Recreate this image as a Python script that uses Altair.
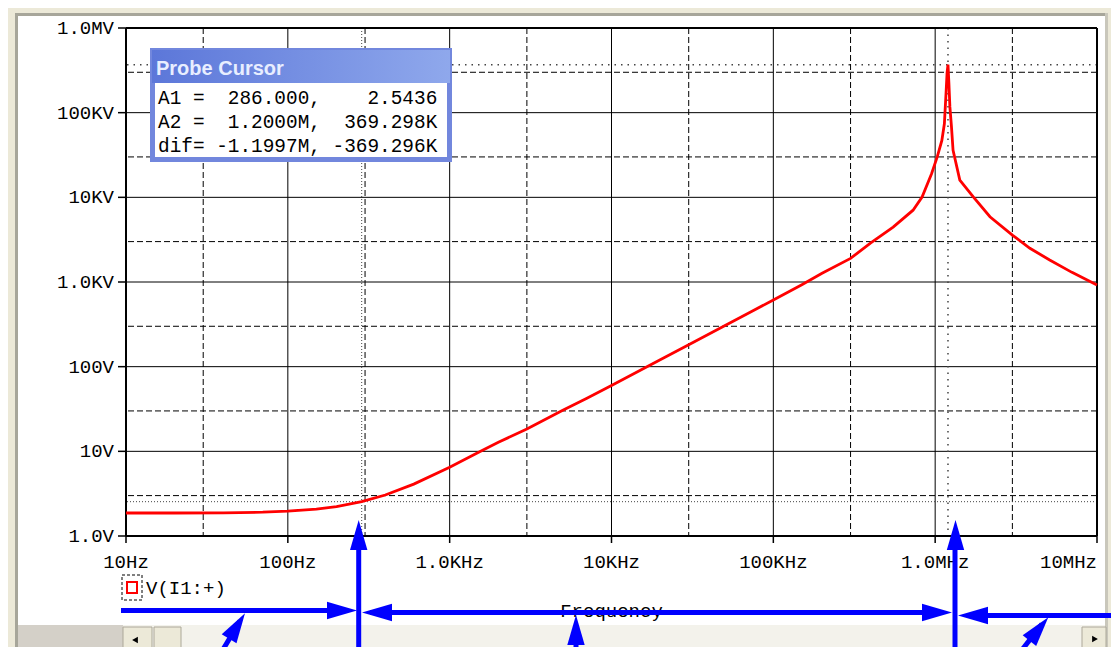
import altair as alt
import pandas as pd
import math

# ---------------- data ----------------
freq_hz = [10, 20, 40, 70, 100, 150, 200, 286, 400, 600, 1000, 1500, 2000, 3000, 5000,
           7000, 10000, 20000, 30000, 50000, 70000, 100000, 150000, 200000, 300000,
           400000, 550000, 730000, 830000, 950000, 1030000, 1100000, 1140000, 1170000,
           1185000, 1200000, 1215000, 1233000, 1260000, 1290000, 1420000, 1720000, 2180000,
           3000000, 3850000, 5100000, 7000000, 10000000]
volts = [1.87, 1.87, 1.88, 1.91, 1.97, 2.08, 2.22, 2.5436, 3.05, 4.1, 6.5, 9.7, 12.8, 18.3, 30.5,
         42, 60, 121, 182, 305, 428, 612, 930, 1270, 1900,
         2900, 4450, 7050, 10100, 19000, 30000, 47000, 74000, 185000,
         300000, 369298, 230000, 117000, 70000, 36000, 16000, 10100, 5900,
         3580, 2500, 1820, 1300, 920]

x_tick_values = [10, 100, 1000, 10000, 100000, 1000000, 10000000]
x_tick_labels = ["10Hz", "100Hz", "1.0KHz", "10KHz", "100KHz", "1.0MHz", "10MHz"]
y_tick_values = [1, 10, 100, 1000, 10000, 100000, 1000000]
y_tick_labels = ["1.0V", "10V", "100V", "1.0KV", "10KV", "100KV", "1.0MV"]
x_major_grid = [100, 1000, 10000, 100000, 1000000]
x_minor_grid = [30, 300, 3000, 30000, 300000, 3000000]
y_major_grid = [10, 100, 1000, 10000, 100000]
y_minor_grid = [3, 30, 300, 3000, 30000, 300000]

cursor_a1 = (286.0, 2.5436)
cursor_a2 = (1.2e6, 369298)
probe_title = "Probe Cursor"
probe_rows = ["A1 =  286.000,    2.5436",
              "A2 =  1.2000M,  369.298K",
              "dif= -1.1997M, -369.296K"]
legend_label = "V(I1:+)"
x_title = "Frequency"

# ---------------- layout ----------------
W, H = 971, 508
PAD_L, PAD_T, PAD_R, PAD_B = 118, 20, 14, 111
OX, OY = 8 + PAD_L, 8 + PAD_T   # page position of plot origin
MONO = "Liberation Mono"
BLUE = "#0000FF"
ONE = pd.DataFrame({"k": [0]})

def rx(px):
    return px - OX

def ry(py):
    return py - OY

xs = alt.Scale(type="log", domain=[10, 1e7], nice=False)
ys = alt.Scale(type="log", domain=[1, 1e6], nice=False)
XF = alt.X("f:Q", scale=xs, axis=None)
YF = alt.Y("v:Q", scale=ys, axis=None)


def prect(x1, y1, x2, y2, **mark):
    return alt.Chart(ONE).mark_rect(**mark).encode(
        x=alt.value(rx(x1)), x2=alt.value(rx(x2)), y=alt.value(ry(y1)), y2=alt.value(ry(y2)))


def ptext(x, y, t, align="left", **mark):
    return alt.Chart(ONE).mark_text(align=align, baseline="alphabetic", **mark).encode(
        x=alt.value(rx(x)), y=alt.value(ry(y)), text=alt.value(t))


def pline(x1, y1, x2, y2, **mark):
    return alt.Chart(ONE).mark_rule(**mark).encode(
        x=alt.value(rx(x1)), x2=alt.value(rx(x2)), y=alt.value(ry(y1)), y2=alt.value(ry(y2)))


HL = 15
def phead(tx, ty, a):
    cx = tx - HL * math.sin(math.radians(a))
    cy = ty + HL * math.cos(math.radians(a))
    return alt.Chart(ONE).mark_point(
        shape="M0,-1L0.58,1L-0.58,1Z", filled=True, color=BLUE, opacity=1, size=900,
        strokeWidth=0, angle=a).encode(x=alt.value(rx(cx)), y=alt.value(ry(cy)))


def pglyph(x, y, shape):
    return alt.Chart(ONE).mark_point(shape=shape, filled=True, color="black", opacity=1,
                                     size=45).encode(x=alt.value(rx(x)), y=alt.value(ry(y)))

layers = []

# ---------------- window chrome ----------------
beige, gray = "#ECE9D8", "#A7A69A"
for x1, x2, y1, y2, c in [
    (8, 15, 8, 660, beige), (8, 1111, 8, 13, beige), (1108, 1111, 8, 660, beige),
    (15, 18, 13, 660, gray), (15, 1108, 13, 16, gray), (1105, 1108, 13, 660, "#C9C7BB"),
    (18, 123, 625, 660, "#D4D0C8"), (123, 1105, 625, 660, "#F3F2EB")]:
    layers.append(prect(x1, y1, x2, y2, fill=c))
for x1, x2 in [(123, 152), (154, 181), (1082, 1106)]:
    layers.append(prect(x1, 627, x2, 650, fill="#ECE9D8", stroke="#ACA899", strokeWidth=1))
layers.append(pglyph(135, 640, "triangle-left"))
layers.append(pglyph(1095, 639, "triangle-right"))

# ---------------- grid ----------------
layers.append(alt.Chart(pd.DataFrame({"f": x_minor_grid})).mark_rule(
    color="black", strokeWidth=1, strokeDash=[6, 3]).encode(x=XF))
layers.append(alt.Chart(pd.DataFrame({"v": y_minor_grid})).mark_rule(
    color="black", strokeWidth=1, strokeDash=[6, 3]).encode(y=YF))
layers.append(alt.Chart(pd.DataFrame({"f": x_major_grid})).mark_rule(
    color="black", strokeWidth=1).encode(x=XF))
layers.append(alt.Chart(pd.DataFrame({"v": y_major_grid})).mark_rule(
    color="black", strokeWidth=1).encode(y=YF))

# cursor lines
layers.append(alt.Chart(pd.DataFrame({"f": [cursor_a1[0]]})).mark_rule(
    color="#444444", strokeWidth=1, strokeDash=[1, 2]).encode(x=XF))
layers.append(alt.Chart(pd.DataFrame({"v": [cursor_a1[1]]})).mark_rule(
    color="#444444", strokeWidth=1, strokeDash=[1, 2]).encode(y=YF))
layers.append(alt.Chart(pd.DataFrame({"f": [cursor_a2[0]]})).mark_rule(
    color="#444444", strokeWidth=1.5, strokeDash=[1.5, 5]).encode(x=XF))
layers.append(alt.Chart(pd.DataFrame({"v": [cursor_a2[1]]})).mark_rule(
    color="#444444", strokeWidth=1.5, strokeDash=[1.5, 5]).encode(y=YF))

# frame (four sides)
layers.append(alt.Chart(pd.DataFrame({"v": [1, 1e6]})).mark_rule(color="black", strokeWidth=2).encode(y=YF))
layers.append(alt.Chart(pd.DataFrame({"f": [10, 1e7]})).mark_rule(color="black", strokeWidth=2).encode(x=XF))

# ---------------- axis ticks + labels (drawn through the scales) ----------------
xt = pd.DataFrame({"f": x_tick_values, "lab": x_tick_labels})
yt = pd.DataFrame({"v": y_tick_values, "lab": y_tick_labels})
layers.append(alt.Chart(xt).mark_rule(color="black", strokeWidth=1.5).encode(
    x=XF, y=alt.value(H), y2=alt.value(H + 7)))
layers.append(alt.Chart(yt).mark_rule(color="black", strokeWidth=1.5).encode(
    y=YF, x=alt.value(-8), x2=alt.value(0)))
layers.append(alt.Chart(xt.iloc[:-1]).mark_text(
    align="center", baseline="alphabetic", font=MONO, fontSize=19, color="black").encode(
    x=XF, y=alt.value(ry(568)), text="lab:N"))
layers.append(alt.Chart(xt.iloc[-1:]).mark_text(
    align="right", baseline="alphabetic", font=MONO, fontSize=19, color="black").encode(
    x=XF, y=alt.value(ry(568)), text="lab:N"))
layers.append(alt.Chart(yt).mark_text(
    align="right", baseline="middle", font=MONO, fontSize=19, color="black").encode(
    y=YF, x=alt.value(rx(114)), text="lab:N"))
layers.append(ptext(611.5, 617, x_title, align="center", font=MONO, fontSize=19, color="black"))

# ---------------- curve ----------------
layers.append(alt.Chart(pd.DataFrame({"f": freq_hz, "v": volts})).mark_line(
    color="#FF0000", strokeWidth=2.8).encode(x=XF, y=YF, order="f:Q"))

# ---------------- probe cursor box ----------------
grad = alt.Gradient(gradient="linear",
                    stops=[alt.GradientStop(color="#5C77D9", offset=0),
                           alt.GradientStop(color="#8FA8EC", offset=1)],
                    x1=0, x2=1, y1=0, y2=0)
layers.append(prect(150, 48, 452, 162, fill="#7287DD"))
layers.append(prect(152, 50, 450, 83, fill=grad))
layers.append(prect(155, 83, 447, 157, fill="#FFFFFF"))
layers.append(ptext(156, 75, probe_title, font="Liberation Sans", fontWeight="bold",
                    fontSize=20, color="#E8EEFF"))
for row, by in zip(probe_rows, [104, 127.5, 151.5]):
    layers.append(ptext(158, by, row.replace(" ", "\u00a0"), font=MONO, fontSize=19.4,
                        color="black"))

# ---------------- legend ----------------
layers.append(prect(122, 575, 142, 600, fill="white", stroke="black", strokeWidth=1,
                    strokeDash=[3, 2]))
layers.append(prect(127, 582, 137, 593, fill="white", stroke="#FF0000", strokeWidth=2))
layers.append(ptext(146, 594, legend_label, font=MONO, fontSize=19, color="black"))

# ---------------- blue annotation arrows ----------------
for x1, y1, x2, y2 in [
    (121, 610.5, 340, 610.5), (358.7, 660, 358.7, 535), (370, 612.5, 940, 612.5),
    (955, 660, 955, 535), (970, 615.5, 1119, 615.5),
    (212, 668, 240, 621), (576, 660, 576, 625), (1008, 668, 1042, 624)]:
    layers.append(pline(x1, y1, x2, y2, color=BLUE, strokeWidth=5))
for tx, ty, a in [(357, 610.5, 90), (358.7, 520, 0), (362, 612.5, 270), (952, 612.5, 90),
                  (955.5, 520, 0), (958, 615.5, 270), (245, 613.3, 32), (576, 615, 0),
                  (1048.3, 617.3, 39)]:
    layers.append(phead(tx, ty, a))

chart = alt.layer(*layers).properties(
    width=W, height=H,
    padding={"left": PAD_L, "top": PAD_T, "right": PAD_R, "bottom": PAD_B},
    autosize=alt.AutoSizeParams(type="none"),
    background="white",
).configure_view(stroke=None)

chart.save("out.html", embed_options={"renderer": "svg", "actions": False})
